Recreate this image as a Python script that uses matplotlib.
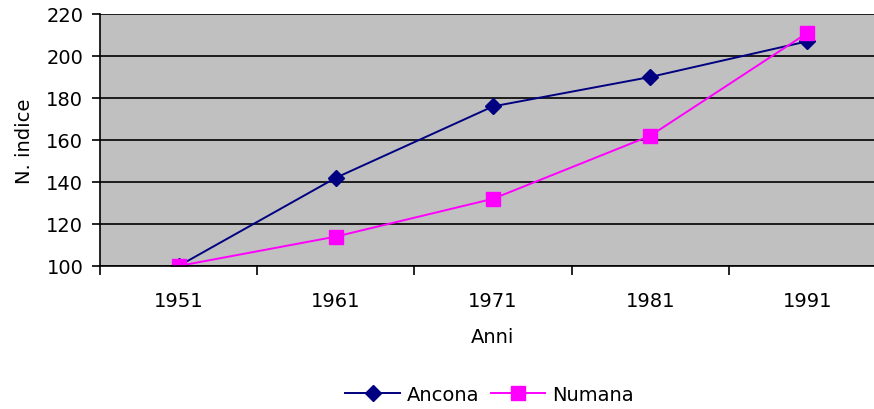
import matplotlib
matplotlib.use('Agg')
import matplotlib.pyplot as plt
import numpy as np

anni = ['1951', '1961', '1971', '1981', '1991']
ancona = [100, 142, 176, 190, 207]
numana = [100, 114, 132, 162, 211]

plt.rcParams['font.family'] = ['DejaVu Sans']
plt.rcParams['font.size'] = 14

fig = plt.figure(figsize=(8.74, 4.10), dpi=100)
ax = fig.add_axes([100 / 874, 143 / 410, 786 / 874, 252 / 410])
ax.set_facecolor('#c0c0c0')

x = np.arange(len(anni))
ax.plot(x, ancona, color='#000080', marker='D', markersize=8, linewidth=1.4, label='Ancona')
ax.plot(x, numana, color='#ff00ff', marker='s', markersize=10, linewidth=1.4, label='Numana')

ax.set_xlim(-0.5, len(anni) - 0.5)
ax.set_ylim(100, 220)
ax.set_yticks(np.arange(100, 221, 20))
ax.yaxis.grid(True, color='black', linewidth=1.2)
ax.set_axisbelow(True)

ax.set_xticks(x)
ax.set_xticklabels(anni)
ax.tick_params(axis='x', which='major', length=0, pad=18)
ax.set_xticks(np.arange(-0.5, len(anni), 1.0), minor=True)
ax.tick_params(axis='x', which='minor', length=6.5, width=1.2, direction='out')
ax.tick_params(axis='y', length=6, width=1.2, direction='out', pad=6)

for s in ['top', 'right']:
    ax.spines[s].set_visible(False)
for s in ['left', 'bottom']:
    ax.spines[s].set_linewidth(1.2)

ax.set_xlabel('Anni', labelpad=12)
ax.set_ylabel('N. indice', labelpad=9)

fig.legend(loc='center', bbox_to_anchor=(0.56, 0.035), ncol=2, frameon=False,
           handlelength=2.8, columnspacing=0.6, handletextpad=0.35)

fig.savefig('out.png', dpi=100)
